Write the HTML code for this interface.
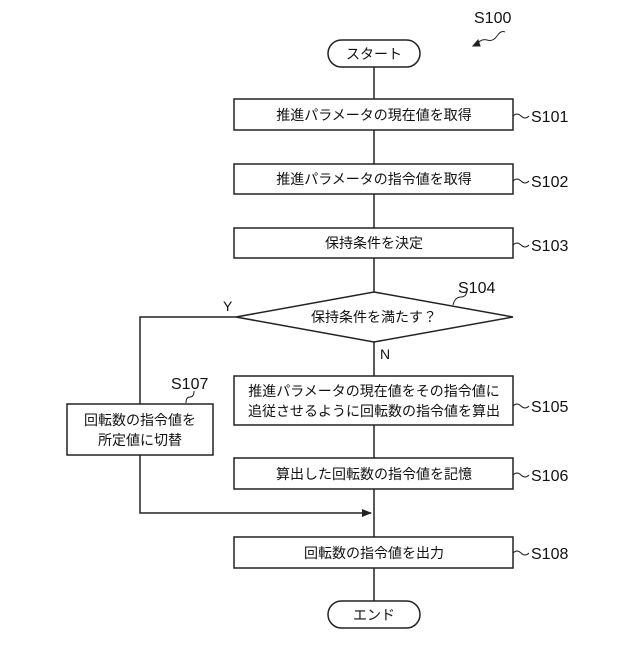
<!DOCTYPE html><html><head><meta charset="utf-8"><style>body{margin:0;background:#fff}</style></head><body>
<svg width="640" height="640" xmlns="http://www.w3.org/2000/svg" font-family="Liberation Sans, Noto Sans CJK JP, sans-serif" font-size="14" fill="none" stroke="#222" stroke-width="1.5">
<defs><marker id="a" markerWidth="10" markerHeight="8" refX="9" refY="4" orient="auto" markerUnits="userSpaceOnUse"><path d="M0,0 L10,4 L0,8 Z" fill="#222" stroke="none"/></marker></defs>
<line x1="374" y1="67" x2="374" y2="601"/>
<rect x="328" y="40" width="92" height="27" rx="13.5" fill="#fff"/>
<rect x="234" y="99" width="279" height="31" fill="#fff"/>
<rect x="234" y="164" width="279" height="30" fill="#fff"/>
<rect x="234" y="228" width="279" height="30" fill="#fff"/>
<polygon points="236,317 374,292 513,317 374,342" fill="#fff"/>
<rect x="234" y="376" width="279" height="49" fill="#fff"/>
<rect x="234" y="458" width="279" height="31" fill="#fff"/>
<rect x="67" y="404" width="146" height="51" fill="#fff"/>
<rect x="234" y="537" width="279" height="31" fill="#fff"/>
<rect x="328" y="601" width="92" height="27" rx="13.5" fill="#fff"/>
<polyline points="236,317 140,317 140,404"/>
<polyline points="140,455 140,513 371,513" marker-end="url(#a)"/>
<g stroke-width="1">
<path d="M513,116 q4,-4 8,0 t8,0"/><path d="M513,181 q4,-4 8,0 t8,0"/><path d="M513,245 q4,-4 8,0 t8,0"/>
<path d="M513,406 q4,-4 8,0 t8,0"/><path d="M513,475 q4,-4 8,0 t8,0"/><path d="M513,553 q4,-4 8,0 t8,0"/>
<path d="M453,305 q2,-8 8,-8 t6,-8"/><path d="M186,403 q0,-6 4,-6 t4,-6"/>
<path d="M505,32 q-4,-2 -8,4 t-10,4 t-12,6"/><path d="M473,46 l5,-6 l2,6 z" fill="#222"/>
</g>
<g fill="#111" stroke="none">
<text x="374" y="59" text-anchor="middle">スタート</text>
<text x="374" y="120" text-anchor="middle">推進パラメータの現在値を取得</text>
<text x="374" y="184" text-anchor="middle">推進パラメータの指令値を取得</text>
<text x="374" y="248" text-anchor="middle">保持条件を決定</text>
<text x="374" y="322" text-anchor="middle">保持条件を満たす？</text>
<text x="374" y="396" text-anchor="middle">推進パラメータの現在値をその指令値に</text>
<text x="374" y="416" text-anchor="middle">追従させるように回転数の指令値を算出</text>
<text x="374" y="479" text-anchor="middle">算出した回転数の指令値を記憶</text>
<text x="140" y="425" text-anchor="middle">回転数の指令値を</text>
<text x="140" y="445" text-anchor="middle">所定値に切替</text>
<text x="374" y="558" text-anchor="middle">回転数の指令値を出力</text>
<text x="374" y="620" text-anchor="middle">エンド</text>
<g font-size="16">
<text x="474" y="23">S100</text>
<text x="531" y="122">S101</text><text x="531" y="187">S102</text><text x="531" y="251">S103</text>
<text x="458" y="293">S104</text><text x="531" y="412">S105</text><text x="531" y="481">S106</text>
<text x="171" y="389">S107</text><text x="531" y="559">S108</text>
<text x="223" y="311" font-size="14">Y</text><text x="380" y="359" font-size="14">N</text>
</g></g>
</svg></body></html>
